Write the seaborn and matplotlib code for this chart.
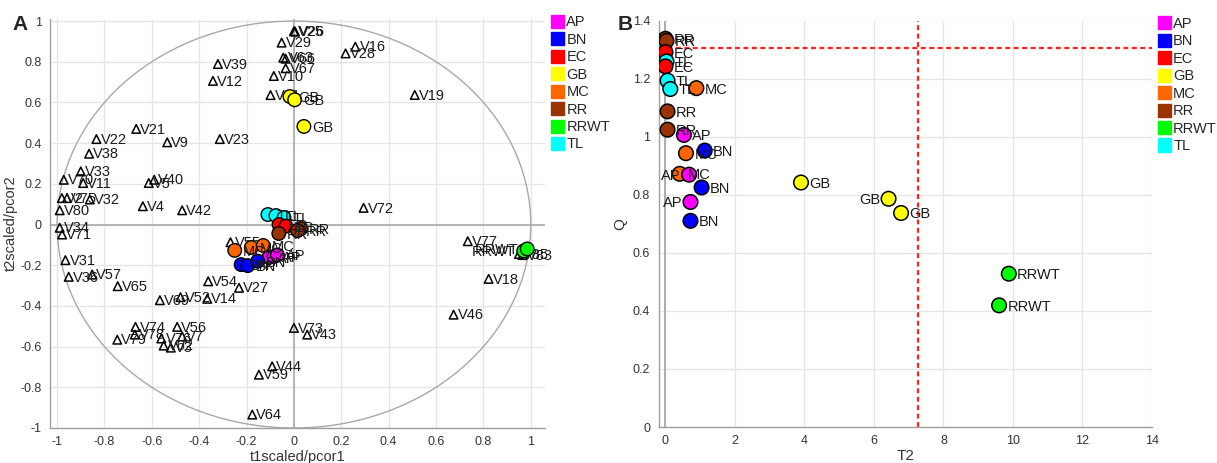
"""OPLS-DA loading/score biplot (A) and DModX-style T2 vs Q plot (B)."""

import matplotlib

matplotlib.use("Agg")  # headless

import matplotlib.pyplot as plt
import pandas as pd
import seaborn as sns
from matplotlib.patches import Ellipse, Patch
from matplotlib.ticker import FuncFormatter, MultipleLocator

# ---- data -----------------------------------------------------------------
classes = ["AP", "BN", "EC", "GB", "MC", "RR", "RRWT", "TL"]
class_colors = ["#ff00ff", "#0000ff", "#ff0000", "#ffff00",
                "#ff6600", "#993300", "#00ff00", "#00ffff"]

# loadings (triangles) in panel A
var_names = ["V25", "V26", "V29", "V63", "V66", "V67", "V10", "V39", "V12", "V61",
             "V16", "V28", "V19", "V21", "V22", "V9", "V23", "V38", "V33", "V70",
             "V11", "V40", "V5", "V2", "V75", "V32", "V80", "V4", "V42", "V72",
             "V34", "V71", "V31", "V36", "V57", "V65", "V69", "V52", "V14", "V54",
             "V27", "V55", "V74", "V78", "V79", "V56", "V76", "V7", "V62", "V3",
             "V73", "V43", "V44", "V59", "V64", "V77", "V85", "V83", "V18", "V46"]
var_x = [0.00, 0.005, -0.052, -0.045, -0.035, -0.035, -0.085, -0.321, -0.342, -0.099,
         0.259, 0.218, 0.51, -0.666, -0.834, -0.535, -0.313, -0.865, -0.90, -0.972,
         -0.89, -0.59, -0.613, -0.98, -0.958, -0.862, -0.989, -0.638, -0.472, 0.294,
         -0.989, -0.979, -0.965, -0.951, -0.852, -0.744, -0.566, -0.479, -0.366, -0.362,
         -0.232, -0.268, -0.669, -0.672, -0.746, -0.493, -0.56, -0.472, -0.55, -0.52,
         0.0, 0.056, -0.092, -0.148, -0.176, 0.734, 0.95, 0.965, 0.822, 0.674]
var_y = [0.95, 0.948, 0.894, 0.82, 0.815, 0.768, 0.73, 0.789, 0.706, 0.636,
         0.874, 0.841, 0.637, 0.47, 0.42, 0.404, 0.42, 0.348, 0.261, 0.22,
         0.204, 0.22, 0.204, 0.13, 0.13, 0.123, 0.07, 0.09, 0.07, 0.082,
         -0.016, -0.049, -0.175, -0.257, -0.246, -0.303, -0.372, -0.357, -0.365, -0.279,
         -0.311, -0.087, -0.503, -0.541, -0.566, -0.503, -0.56, -0.55, -0.595, -0.605,
         -0.508, -0.541, -0.697, -0.738, -0.934, -0.082, -0.145, -0.15, -0.267, -0.443]

# scores (circles) in panel A
score_class = ["TL", "TL", "TL", "EC", "EC", "RR", "RR", "RR",
               "MC", "MC", "MC", "AP", "AP", "AP", "BN", "BN", "BN",
               "GB", "GB", "GB", "RRWT", "RRWT"]
score_x = [-0.11, -0.076, -0.042, -0.063, -0.034, -0.064, 0.029, 0.015,
           -0.25, -0.18, -0.13, -0.105, -0.084, -0.07, -0.223, -0.195, -0.153,
           -0.017, 0.003, 0.042, 0.97, 0.985]
score_y = [0.049, 0.044, 0.034, 0.0, -0.008, -0.044, -0.02, -0.03,
           -0.127, -0.113, -0.103, -0.162, -0.157, -0.15, -0.197, -0.202, -0.18,
           0.629, 0.613, 0.482, -0.13, -0.12]

# panel B
dmod_class = ["RR", "RR", "EC", "TL", "EC", "TL", "TL", "MC", "RR", "RR",
              "AP", "MC", "BN", "MC", "AP", "BN", "AP", "BN",
              "GB", "GB", "GB", "RRWT", "RRWT"]
dmod_t2 = [0.0, 0.03, 0.0, 0.03, 0.0, 0.06, 0.14, 0.89, 0.06, 0.06,
           0.53, 0.59, 1.13, 0.41, 0.68, 1.04, 0.72, 0.72,
           3.9, 6.42, 6.78, 9.88, 9.60]
dmod_q = [1.337, 1.33, 1.291, 1.259, 1.242, 1.193, 1.164, 1.167, 1.087, 1.024,
          1.006, 0.943, 0.952, 0.872, 0.869, 0.825, 0.775, 0.71,
          0.842, 0.786, 0.737, 0.528, 0.419]
t2_crit = 7.26
q_crit = 1.307

# ---- style ----------------------------------------------------------------
sns.set_theme(style="white")
plt.rcParams["font.family"] = ["Liberation Sans", "DejaVu Sans"]
plt.rcParams["axes.unicode_minus"] = False

palette = dict(zip(classes, class_colors))
W, H = 1217, 463
fig = plt.figure(figsize=(W / 100, H / 100), dpi=100)
tick_fmt = FuncFormatter(lambda v, _: f"{round(v, 2) + 0.0:g}")


def style_axes(ax):
    for side in ("top", "right"):
        ax.spines[side].set_visible(False)
    for side in ("left", "bottom"):
        ax.spines[side].set_color("#a0a0a0")
        ax.spines[side].set_linewidth(1.0)
    ax.grid(True, color="#e6e6e6", lw=1.0, zorder=0)
    ax.set_axisbelow(True)
    ax.tick_params(which="both", direction="out", colors="#888888",
                   labelcolor="#333333", labelsize=9, length=3, width=0.8, pad=3)
    ax.tick_params(which="minor", length=2)
    ax.xaxis.set_major_formatter(tick_fmt)
    ax.yaxis.set_major_formatter(tick_fmt)


def legend_right(ax):
    handles = [Patch(facecolor=c, edgecolor=c, label=k) for k, c in palette.items()]
    ax.legend(handles=handles, loc="upper left", bbox_to_anchor=(1.012, 1.01),
              frameon=False, handlelength=0.9, handleheight=1.0, handletextpad=0.15,
              labelspacing=0.2, fontsize=10.5, borderaxespad=0, borderpad=0)


# ---- panel A ----------------------------------------------------------------
ax_a = fig.add_axes([50 / W, 35 / H, 495 / W, 409 / H])
style_axes(ax_a)
ax_a.axhline(0, color="#b0b0b0", lw=1.3, zorder=1)
ax_a.axvline(0, color="#b0b0b0", lw=1.3, zorder=1)
ax_a.add_patch(Ellipse((0, 0), 2, 2, fill=False, edgecolor="#a8a8a8", lw=1.0, zorder=1))

loadings = pd.DataFrame({"name": var_names, "x": var_x, "y": var_y})
sns.scatterplot(data=loadings, x="x", y="y", marker="^", s=38, color="black",
                linewidth=1.1, ax=ax_a, zorder=3)
ax_a.collections[-1].set_facecolor("none")
ax_a.collections[-1].set_edgecolor("black")
for _, r in loadings.iterrows():
    ax_a.annotate(r["name"], (r["x"], r["y"]), xytext=(3, -0.5), textcoords="offset points",
                  ha="left", va="center", fontsize=10.5, color="#1a1a1a", zorder=4)

scores = pd.DataFrame({"cls": score_class, "x": score_x, "y": score_y})
sns.scatterplot(data=scores, x="x", y="y", hue="cls", palette=palette, s=95,
                edgecolor="black", linewidth=1.0, legend=False, ax=ax_a, zorder=5)
for _, r in scores.iterrows():
    left = r["cls"] == "RRWT"
    ax_a.annotate(r["cls"], (r["x"], r["y"]), xytext=(-6 if left else 6, -1),
                  textcoords="offset points", ha="right" if left else "left",
                  va="center", fontsize=10.5, color="#1a1a1a", zorder=6)

ax_a.set_xlim(-1.03, 1.06)
ax_a.set_ylim(-1.0, 1.01)
ax_a.xaxis.set_major_locator(MultipleLocator(0.2))
ax_a.yaxis.set_major_locator(MultipleLocator(0.2))
ax_a.xaxis.set_minor_locator(MultipleLocator(0.1))
ax_a.yaxis.set_minor_locator(MultipleLocator(0.1))
ax_a.set_xlabel("t1scaled/pcor1", fontsize=10.5, color="#333333", labelpad=1)
ax_a.set_ylabel("t2scaled/pcor2", fontsize=10.5, color="#333333", labelpad=2)
legend_right(ax_a)
fig.text(12 / W, 1 - 24 / H, "A", fontsize=15, fontweight="bold", va="center")

# ---- panel B ----------------------------------------------------------------
ax_b = fig.add_axes([658.5 / W, 36 / H, 493.5 / W, 406.5 / H])
style_axes(ax_b)
ax_b.axvline(0, color="#a8a8a8", lw=1.3, zorder=1)
ax_b.axvline(t2_crit, color="#ff2020", ls=(0, (2.2, 1.6)), lw=1.6, zorder=2)
ax_b.axhline(q_crit, color="#ff2020", ls=(0, (2.2, 1.6)), lw=1.6, zorder=2)

dmod = pd.DataFrame({"cls": dmod_class, "t2": dmod_t2, "q": dmod_q})
sns.scatterplot(data=dmod, x="t2", y="q", hue="cls", palette=palette, s=110,
                edgecolor="black", linewidth=1.1, legend=False, ax=ax_b, zorder=5)
# labels placed left of a few points, as in the original software output
left_idx = {14, 16, 19}
for i, r in dmod.iterrows():
    left = i in left_idx
    ax_b.annotate(r["cls"], (r["t2"], r["q"]), xytext=(-6 if left else 6, -1),
                  textcoords="offset points", ha="right" if left else "left",
                  va="center", fontsize=10.5, color="#1a1a1a", zorder=6)

ax_b.set_xlim(-0.2, 14)
ax_b.set_ylim(0, 1.4)
ax_b.xaxis.set_major_locator(MultipleLocator(2))
ax_b.xaxis.set_minor_locator(MultipleLocator(1))
ax_b.yaxis.set_major_locator(MultipleLocator(0.2))
ax_b.yaxis.set_minor_locator(MultipleLocator(0.1))
ax_b.set_xlabel("T2", fontsize=11, color="#333333", labelpad=1)
ax_b.set_ylabel("Q", fontsize=11, color="#333333", labelpad=4)
legend_right(ax_b)
fig.text(618 / W, 1 - 24 / H, "B", fontsize=15, fontweight="bold", va="center")

fig.savefig("out.png", dpi=100)
plt.close(fig)
